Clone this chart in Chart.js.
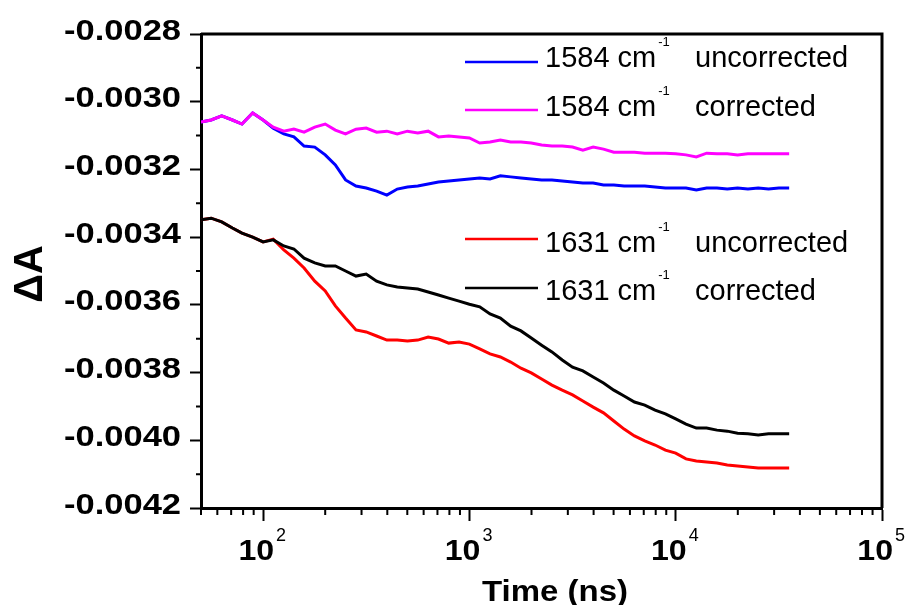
<!DOCTYPE html>
<html>
<head>
<meta charset="utf-8">
<script src="https://cdn.jsdelivr.net/npm/chart.js@4.4.0/dist/chart.umd.min.js"></script>
<style>
  html, body { margin: 0; padding: 0; background: #fff; }
  #wrap { width: 909px; height: 605px; }
</style>
</head>
<body>
<div id="wrap"><canvas id="lineChart" width="909" height="605"></canvas></div>
<script>
/************************ DATA  ************************** */
// time axis (ns), shared by the four traces
const times = [
  50, 56, 63, 71, 79, 89, 100, 112, 126, 141,
  158, 178, 200, 224, 251, 282, 316, 355, 398, 447,
  501, 562, 631, 708, 794, 891, 1000, 1122, 1259, 1413,
  1585, 1778, 1995, 2239, 2512, 2818, 3162, 3548, 3981, 4467,
  5012, 5623, 6310, 7079, 7943, 8913, 10000, 11220, 12589, 14125,
  15849, 17783, 19953, 22387, 25119, 28184, 31623, 35481,
];

// 1584 cm-1 uncorrected
const blue1584 = [
  -0.003060, -0.003054, -0.003042, -0.003054, -0.003066, -0.003033, -0.003054, -0.003078, -0.003095, -0.003104,
  -0.003131, -0.003134, -0.003157, -0.003187, -0.003231, -0.003249, -0.003255, -0.003264, -0.003276, -0.003258,
  -0.003252, -0.003249, -0.003243, -0.003237, -0.003234, -0.003231, -0.003228, -0.003225, -0.003228, -0.003219,
  -0.003222, -0.003225, -0.003228, -0.003231, -0.003231, -0.003234, -0.003237, -0.003240, -0.003240, -0.003246,
  -0.003246, -0.003249, -0.003249, -0.003249, -0.003252, -0.003255, -0.003255, -0.003255, -0.003261, -0.003255,
  -0.003255, -0.003258, -0.003255, -0.003258, -0.003255, -0.003258, -0.003255, -0.003255,
];

// 1584 cm-1 corrected
const magenta1584 = [
  -0.003060, -0.003054, -0.003042, -0.003054, -0.003066, -0.003033, -0.003054, -0.003075, -0.003087, -0.003081,
  -0.003090, -0.003075, -0.003066, -0.003084, -0.003095, -0.003081, -0.003078, -0.003090, -0.003087, -0.003095,
  -0.003087, -0.003092, -0.003087, -0.003104, -0.003101, -0.003104, -0.003107, -0.003122, -0.003119, -0.003113,
  -0.003119, -0.003119, -0.003122, -0.003128, -0.003131, -0.003131, -0.003134, -0.003143, -0.003134, -0.003140,
  -0.003149, -0.003149, -0.003149, -0.003152, -0.003152, -0.003152, -0.003154, -0.003157, -0.003163, -0.003152,
  -0.003154, -0.003154, -0.003157, -0.003154, -0.003154, -0.003154, -0.003154, -0.003154,
];

// 1631 cm-1 uncorrected
const red1631 = [
  -0.003349, -0.003344, -0.003355, -0.003373, -0.003388, -0.003400, -0.003414, -0.003406, -0.003438, -0.003462,
  -0.003491, -0.003530, -0.003559, -0.003603, -0.003639, -0.003674, -0.003680, -0.003692, -0.003704, -0.003704,
  -0.003707, -0.003704, -0.003695, -0.003701, -0.003713, -0.003710, -0.003716, -0.003730, -0.003745, -0.003754,
  -0.003769, -0.003787, -0.003801, -0.003819, -0.003837, -0.003852, -0.003866, -0.003884, -0.003902, -0.003919,
  -0.003943, -0.003967, -0.003987, -0.004002, -0.004014, -0.004029, -0.004038, -0.004055, -0.004061, -0.004064,
  -0.004067, -0.004073, -0.004076, -0.004079, -0.004082, -0.004082, -0.004082, -0.004082,
];

// 1631 cm-1 corrected
const black1631 = [
  -0.003349, -0.003344, -0.003355, -0.003373, -0.003388, -0.003400, -0.003414, -0.003408, -0.003426, -0.003435,
  -0.003462, -0.003476, -0.003485, -0.003485, -0.003500, -0.003515, -0.003509, -0.003530, -0.003541, -0.003547,
  -0.003550, -0.003553, -0.003562, -0.003571, -0.003580, -0.003589, -0.003598, -0.003606, -0.003627, -0.003639,
  -0.003663, -0.003677, -0.003698, -0.003719, -0.003739, -0.003763, -0.003784, -0.003795, -0.003813, -0.003831,
  -0.003852, -0.003869, -0.003887, -0.003896, -0.003911, -0.003922, -0.003937, -0.003952, -0.003964, -0.003964,
  -0.003970, -0.003973, -0.003979, -0.003981, -0.003984, -0.003981, -0.003981, -0.003981,
];

// ticks
const yMajor = [-0.0042, -0.004, -0.0038, -0.0036, -0.0034, -0.0032, -0.003, -0.0028];
const yTickLabels = ["-0.0042", "-0.0040", "-0.0038", "-0.0036", "-0.0034", "-0.0032", "-0.0030", "-0.0028"];
const yMinor = [-0.0041, -0.0039, -0.0037, -0.0035, -0.0033, -0.0031, -0.0029];
const xMajor = [100, 1000, 10000, 100000];
const xTickExponents = ["2", "3", "4", "5"];
const xMinor = [
  50, 60, 70, 80, 90,
  200, 300, 400, 500, 600, 700, 800, 900,
  2000, 3000, 4000, 5000, 6000, 7000, 8000, 9000,
  20000, 30000, 40000, 50000, 60000, 70000, 80000, 90000,
];

// legend
const legendNames = ["1584 cm", "1584 cm", "1631 cm", "1631 cm"];
const legendWords = ["uncorrected", "corrected", "uncorrected", "corrected"];
const seriesColors = ["#0000ff", "#ff00ff", "#ff0000", "#000000"];

/************************ HELPERS  ************************** */
const FONT = "Arial, 'Liberation Sans', sans-serif";

function toPoints(values) {
  return values.map((v, i) => ({ x: times[i], y: v }));
}

function stretchText(ctx, text, x, y, sx, align) {
  ctx.save();
  ctx.translate(x, y);
  ctx.scale(sx, 1);
  ctx.textAlign = align;
  ctx.fillText(text, 0, 0);
  ctx.restore();
}

// frame, minor ticks, tick labels, axis titles and the legend block
const figureText = {
  id: "figureText",
  afterDraw(chart) {
    const { ctx, chartArea: area, scales } = chart;
    const xs = scales.x;
    const ys = scales.y;
    ctx.save();
    ctx.strokeStyle = "#000";
    ctx.fillStyle = "#000";
    ctx.textBaseline = "alphabetic";

    // top + right sides of the box
    ctx.lineWidth = 3;
    ctx.beginPath();
    ctx.moveTo(area.left, area.top);
    ctx.lineTo(area.right, area.top);
    ctx.lineTo(area.right, area.bottom);
    ctx.stroke();

    // minor ticks
    ctx.lineWidth = 2;
    ctx.beginPath();
    yMinor.forEach((v) => {
      const py = ys.getPixelForValue(v);
      ctx.moveTo(area.left - 5, py);
      ctx.lineTo(area.left, py);
    });
    xMinor.forEach((v) => {
      const px = xs.getPixelForValue(v);
      ctx.moveTo(px, area.bottom);
      ctx.lineTo(px, area.bottom + 7);
    });
    ctx.stroke();

    // y tick labels
    ctx.font = "bold 30px " + FONT;
    yMajor.forEach((v, i) => {
      const py = ys.getPixelForValue(v);
      stretchText(ctx, yTickLabels[i], area.left - 20, py + 5.5, 1.15, "right");
    });

    // x tick labels 10^n
    xMajor.forEach((v, i) => {
      const px = xs.getPixelForValue(v);
      ctx.font = "bold 30px " + FONT;
      stretchText(ctx, "10", px + 11, area.bottom + 52, 1.07, "right");
      ctx.font = "18px " + FONT;
      stretchText(ctx, xTickExponents[i], px + 13, area.bottom + 33, 1, "left");
    });

    // axis titles
    ctx.font = "bold 30px " + FONT;
    stretchText(ctx, "Time (ns)", 555, 601, 1.1, "center");
    ctx.save();
    ctx.translate(42, 274);
    ctx.rotate(-Math.PI / 2);
    ctx.font = "bold 40px " + FONT;
    ctx.textAlign = "center";
    ctx.fillText("\u0394A", 0, 0);
    ctx.restore();

    // legend
    const lineY = [62, 110, 239, 288];
    const textY = [67, 116, 252, 300];
    legendNames.forEach((name, i) => {
      ctx.strokeStyle = seriesColors[i];
      ctx.lineWidth = 2.5;
      ctx.beginPath();
      ctx.moveTo(465, lineY[i]);
      ctx.lineTo(538, lineY[i]);
      ctx.stroke();

      ctx.textAlign = "left";
      ctx.font = "29px " + FONT;
      ctx.fillText(name, 545, textY[i]);
      const w = ctx.measureText(name).width;
      ctx.font = "13px " + FONT;
      ctx.fillText("-1", 545 + w + 2, textY[i] - 21);
      ctx.font = "29px " + FONT;
      ctx.fillText(legendWords[i], 695, textY[i]);
    });
    ctx.restore();
  },
};

/************************ CHART  ************************** */
const ctx = document.getElementById("lineChart");

const traceStyle = { borderWidth: 3, pointRadius: 0, tension: 0, fill: false };

const config = {
  type: "line",
  data: {
    datasets: [
      { label: "1584 cm-1 uncorrected", data: toPoints(blue1584), borderColor: seriesColors[0], order: 1, ...traceStyle },
      { label: "1584 cm-1 corrected", data: toPoints(magenta1584), borderColor: seriesColors[1], order: 0, ...traceStyle },
      { label: "1631 cm-1 uncorrected", data: toPoints(red1631), borderColor: seriesColors[2], order: 1, ...traceStyle },
      { label: "1631 cm-1 corrected", data: toPoints(black1631), borderColor: seriesColors[3], order: 0, ...traceStyle },
    ],
  },
  options: {
    responsive: false,
    animation: false,
    devicePixelRatio: 1,
    layout: {
      padding: { left: 190, right: 27, top: 34, bottom: 84 },
    },
    scales: {
      x: {
        type: "logarithmic",
        min: 50,
        max: 100000,
        afterBuildTicks: (scale) => {
          scale.ticks = xMajor.map((v) => ({ value: v }));
        },
        ticks: { display: false },
        grid: {
          drawOnChartArea: false,
          drawTicks: true,
          tickLength: 13,
          tickWidth: 2,
          tickColor: "#000",
        },
        border: { display: true, color: "#000", width: 3 },
      },
      y: {
        min: -0.0042,
        max: -0.0028,
        afterBuildTicks: (scale) => {
          scale.ticks = yMajor.map((v) => ({ value: v }));
        },
        ticks: { display: false },
        grid: {
          drawOnChartArea: false,
          drawTicks: true,
          tickLength: 11,
          tickWidth: 2,
          tickColor: "#000",
        },
        border: { display: true, color: "#000", width: 3 },
      },
    },
    plugins: {
      legend: { display: false },
      tooltip: { enabled: false },
    },
  },
  plugins: [figureText],
};

let myLineChart = new Chart(ctx, config);
</script>
</body>
</html>
